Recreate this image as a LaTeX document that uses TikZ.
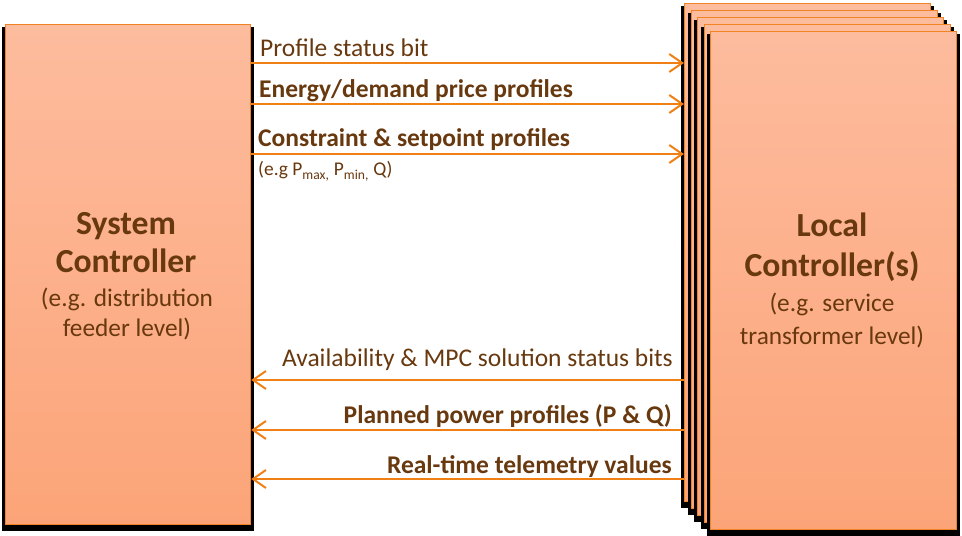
\documentclass[tikz,border=0pt]{standalone}
\usepackage{fontspec}
\setmainfont{Carlito}
\usetikzlibrary{arrows.meta,calc}
\definecolor{ink}{RGB}{104,56,14}
\definecolor{wire}{RGB}{240,128,20}
\definecolor{boxtop}{RGB}{253,188,158}
\definecolor{boxbot}{RGB}{252,164,120}
\definecolor{rim}{RGB}{240,132,36}
\newcommand\castshadow[1]{\fill[black] ($(#1.north west)+(-3,3)$) rectangle ($(#1.south east)+(3,6)$);}
\tikzset{
  ctrl/.style={draw=rim, line width=1.2bp, top color=boxtop, bottom color=boxbot,
    anchor=north west, inner sep=0pt, minimum width=246bp},
  link/.style={draw=wire, line width=2bp, -{Straight Barb[length=13bp,width=18bp]}},
  lbl/.style={text=ink, inner sep=0pt, font=\fontsize{25.6}{30}\selectfont},
  lblb/.style={lbl, font=\fontsize{25.6}{30}\selectfont\bfseries},
  title/.style={text=ink, inner sep=0pt, anchor=base, font=\fontsize{33.8}{38}\selectfont\bfseries},
  sub/.style={text=ink, inner sep=0pt, anchor=base, font=\fontsize{25.4}{30}\selectfont},
}
\begin{document}
\begin{tikzpicture}[x=1bp,y=-1bp]
\useasboundingbox (0,0) rectangle (962,536);

% system controller box with its shadow
\path node[ctrl, minimum width=245bp, minimum height=500bp] (sys) at (5,24) {};
\castshadow{sys}
\node[ctrl, minimum width=245bp, minimum height=500bp] (sys) at (5,24) {};

% stack of local controllers, back to front
\foreach \i/\x/\y in {1/684/3, 2/690.5/10, 3/697/17, 4/703.5/24, 5/710/31}{
  \path node[ctrl, minimum height=498bp] (lc\i) at (\x,\y) {};
  \castshadow{lc\i}
  \node[ctrl, minimum height=498bp] (lc\i) at (\x,\y) {};
}

% box captions
\node[title] (systitle1) at (126,235) {System};
\node[title] (systitle2) at (126,273) {Controller};
\node[sub] (syssub1) at (127,307) {(e.g. distribution};
\node[sub] (syssub2) at (127,337) {feeder level)};

\node[title] (loctitle1) at (832,237) {Local};
\node[title] (loctitle2) at (832,277) {Controller(s)};
\node[sub] (locsub1) at (832,312) {(e.g. service};
\node[sub] (locsub2) at (832,345) {transformer level)};

% downstream signals
\draw[link] (sys.east |- 0,63) -- (lc1.west |- 0,63);
\draw[link] (sys.east |- 0,104) -- (lc1.west |- 0,104);
\draw[link] (sys.east |- 0,154) -- (lc1.west |- 0,154);
\node[lbl, anchor=base west] (l1) at (260,57) {Profile status bit};
\node[lblb, anchor=base west] (l2) at (259,98) {Energy/demand price profiles};
\node[lblb, anchor=base west] (l3) at (258,147) {Constraint \& setpoint profiles};
\node[text=ink, inner sep=0pt, anchor=base west, font=\fontsize{19.5}{22}\selectfont] (l3b) at (258,176)
  {(e.g P\textsubscript{max,} P\textsubscript{min,} Q)};

% upstream signals
\draw[link] (lc1.west |- 0,380) -- (sys.east |- 0,380);
\draw[link] (lc1.west |- 0,430) -- (sys.east |- 0,430);
\draw[link] (lc1.west |- 0,479) -- (sys.east |- 0,479);
\node[lbl, anchor=base east] (r1) at (673,367) {Availability \& MPC solution status bits};
\node[lblb, anchor=base east] (r2) at (672,423) {Planned power profiles (P \& Q)};
\node[lblb, anchor=base east] (r3) at (672,473) {Real-time telemetry values};
\end{tikzpicture}
\end{document}
